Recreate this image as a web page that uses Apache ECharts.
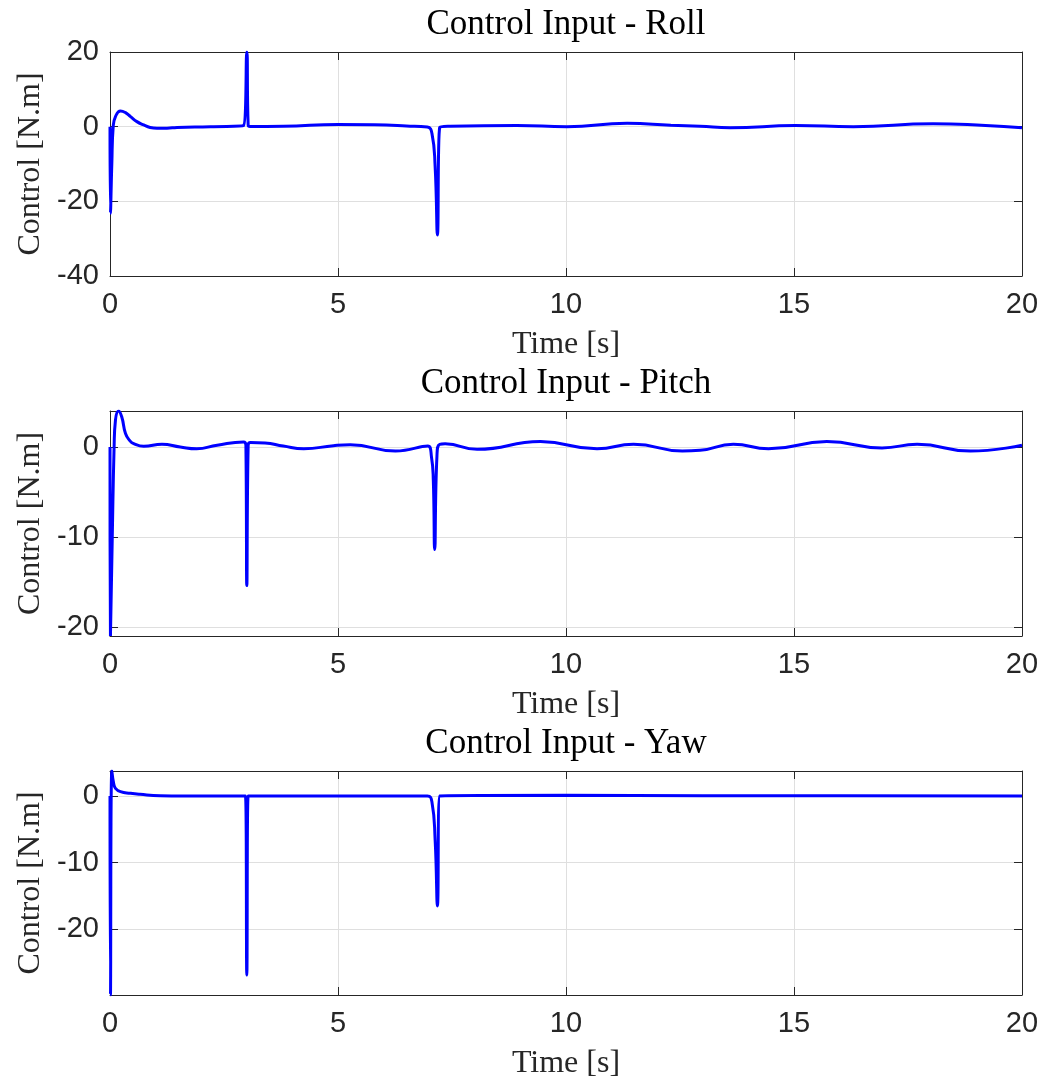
<!DOCTYPE html>
<html>
<head>
<meta charset="utf-8">
<script src="https://cdn.jsdelivr.net/npm/echarts@6/dist/echarts.min.js"></script>
<style>
  html, body { margin: 0; padding: 0; background: #ffffff; }
  #chart { width: 1045px; height: 1082px; }
</style>
</head>
<body>
<div id="chart"></div>
<script>
// Control torques over a 20 s run, one panel per axis
const panelTitles = ['Control Input - Roll', 'Control Input - Pitch', 'Control Input - Yaw'];
const xLabel = 'Time [s]';
const yLabel = 'Control [N.m]';
const timeTicks = [0, 5, 10, 15, 20];

const rollTime = [0, 0.01, 0.04, 0.07, 0.12, 0.23, 0.34, 0.45, 0.59, 0.74, 0.88, 1.03, 1.25, 1.47, 2.2, 2.93,
  3.0, 3.03, 3.07, 3.8, 5.0, 5.8, 6.5, 6.96, 7.06, 7.13, 7.18, 7.23, 7.46, 8.92, 10.02, 11.34, 12.3, 12.94,
  13.6, 15.03, 16.3, 18.05, 19.2, 20];
const rollValues = [0, -23.2, -10, 0, 2.7, 4.2, 3.75, 2.7, 1.35, 0.45, -0.2, -0.4, -0.4, -0.2, 0, 0.3,
  20, 0.4, 0.05, 0.1, 0.6, 0.5, 0.2, -0.1, -1.8, -10.7, -29, -0.2, 0.1, 0.3, 0, 0.9, 0.4, 0.1,
  -0.3, 0.3, 0, 0.8, 0.3, -0.3];

const pitchTime = [0, 0.01, 0.05, 0.09, 0.12, 0.19, 0.26, 0.34, 0.43, 0.52, 0.74, 1.14, 1.54, 1.9, 2.35, 2.93,
  2.98, 3.0, 3.03, 3.08, 3.4, 3.8, 4.25, 4.9, 5.27, 6.26, 6.97, 7.05, 7.09, 7.12, 7.17, 7.23, 7.35, 8.05,
  9.44, 10.68, 11.48, 12.55, 12.94, 13.67, 14.44, 15.72, 16.93, 17.7, 18.87, 20];
const pitchValues = [0, -21, -10, 0, 3.0, 4.0, 3.3, 1.5, 0.74, 0.37, 0.07, 0.3, 0, -0.2, 0.2, 0.55,
  0.2, -15.4, 0.2, 0.5, 0.45, 0.1, -0.2, 0.15, 0.25, -0.45, 0.1, -1.1, -3.7, -11.4, -1.0, 0.3, 0.35, -0.25,
  0.6, -0.2, 0.3, -0.45, -0.37, 0.3, -0.2, 0.6, -0.1, 0.3, -0.45, 0.2];

const yawTime = [0, 0.01, 0.04, 0.08, 0.12, 0.23, 0.45, 0.66, 1.1, 1.6, 2.97, 3.0, 3.03, 6.96, 7.06, 7.13,
  7.18, 7.23, 10, 13, 16, 20];
const yawValues = [0, -29.85, 3.75, 1.9, 1.15, 0.65, 0.4, 0.25, 0.05, 0, 0, -26.85, 0, 0, -0.9, -6.6,
  -16.5, 0, 0.1, 0.05, 0.05, 0];

// value-axis limits and tick labels per panel
const rollRange = [-40, 20];
const pitchRange = [-21, 4];
const yawRange = [-29.85, 3.75];
const rollTicks = [-40, -20, 0, 20];
const pitchTicks = [-20, -10, 0];
const yawTicks = [-20, -10, 0];

const panels = [
  { time: rollTime, values: rollValues, range: rollRange, ticks: rollTicks, top: 52, height: 224 },
  { time: pitchTime, values: pitchValues, range: pitchRange, ticks: pitchTicks, top: 411, height: 225 },
  { time: yawTime, values: yawValues, range: yawRange, ticks: yawTicks, top: 771, height: 224 }
];

const INK = '#262626';
const GRID = '#dfdfdf';
const SANS = "'Liberation Sans', Arial, sans-serif";
const SERIF = "'Liberation Serif', 'Times New Roman', serif";
const LEFT = 110, RIGHT = 23;

const grids = [], xAxes = [], yAxes = [], series = [], graphics = [];

panels.forEach((p, i) => {
  grids.push({ left: LEFT, right: RIGHT, top: p.top, height: p.height, containLabel: false });

  const xBase = {
    gridIndex: i, type: 'value', min: 0, max: 20, interval: 5,
    axisLine: { show: true, onZero: false, lineStyle: { color: INK, width: 1 } },
    axisTick: { show: true, inside: true, length: 8, lineStyle: { color: INK, width: 1 } }
  };
  xAxes.push(Object.assign({}, xBase, {
    position: 'bottom',
    name: xLabel, nameLocation: 'middle', nameGap: 53,
    nameTextStyle: { fontFamily: SERIF, fontSize: 32, color: INK },
    axisLabel: { show: true, margin: 14, fontFamily: SANS, fontSize: 29, color: INK,
      customValues: timeTicks },
    splitLine: { show: true, lineStyle: { color: GRID, width: 1 } }
  }));
  xAxes.push(Object.assign({}, xBase, {
    position: 'top',
    axisLabel: { show: false },
    splitLine: { show: false }
  }));

  const yBase = {
    gridIndex: i, type: 'value', min: p.range[0], max: p.range[1],
    axisLine: { show: true, onZero: false, lineStyle: { color: INK, width: 1 } },
    axisTick: { show: true, inside: true, length: 8, customValues: p.ticks,
      lineStyle: { color: INK, width: 1 } }
  };
  yAxes.push(Object.assign({}, yBase, {
    position: 'left',
    name: yLabel, nameLocation: 'middle', nameGap: 62, nameRotate: 90,
    nameTextStyle: { fontFamily: SERIF, fontSize: 32, color: INK },
    axisLabel: { show: true, margin: 11, fontFamily: SANS, fontSize: 29, color: INK,
      customValues: p.ticks },
    splitLine: { show: true, lineStyle: { color: GRID, width: 1 } }
  }));
  yAxes.push(Object.assign({}, yBase, {
    position: 'right',
    axisLabel: { show: false },
    splitLine: { show: false }
  }));

  series.push({
    type: 'line',
    xAxisIndex: i * 2,
    yAxisIndex: i * 2,
    data: p.time.map((t, k) => [t, p.values[k]]),
    showSymbol: false,
    symbol: 'none',
    smooth: 0.5,
    clip: true,
    lineStyle: { color: '#0000ff', width: 3 },
    emphasis: { disabled: true },
    animation: false,
    z: 5
  });

  graphics.push({
    type: 'text',
    x: LEFT + (1045 - LEFT - RIGHT) / 2,
    y: p.top - 27,
    style: {
      text: panelTitles[i],
      fontFamily: SERIF, fontSize: 35, fill: '#000000',
      align: 'center', verticalAlign: 'middle'
    }
  });
});

const chart = echarts.init(document.getElementById('chart'), null, { renderer: 'canvas' });
chart.setOption({
  backgroundColor: '#ffffff',
  animation: false,
  grid: grids,
  xAxis: xAxes,
  yAxis: yAxes,
  series: series,
  graphic: graphics
});
</script>
</body>
</html>
